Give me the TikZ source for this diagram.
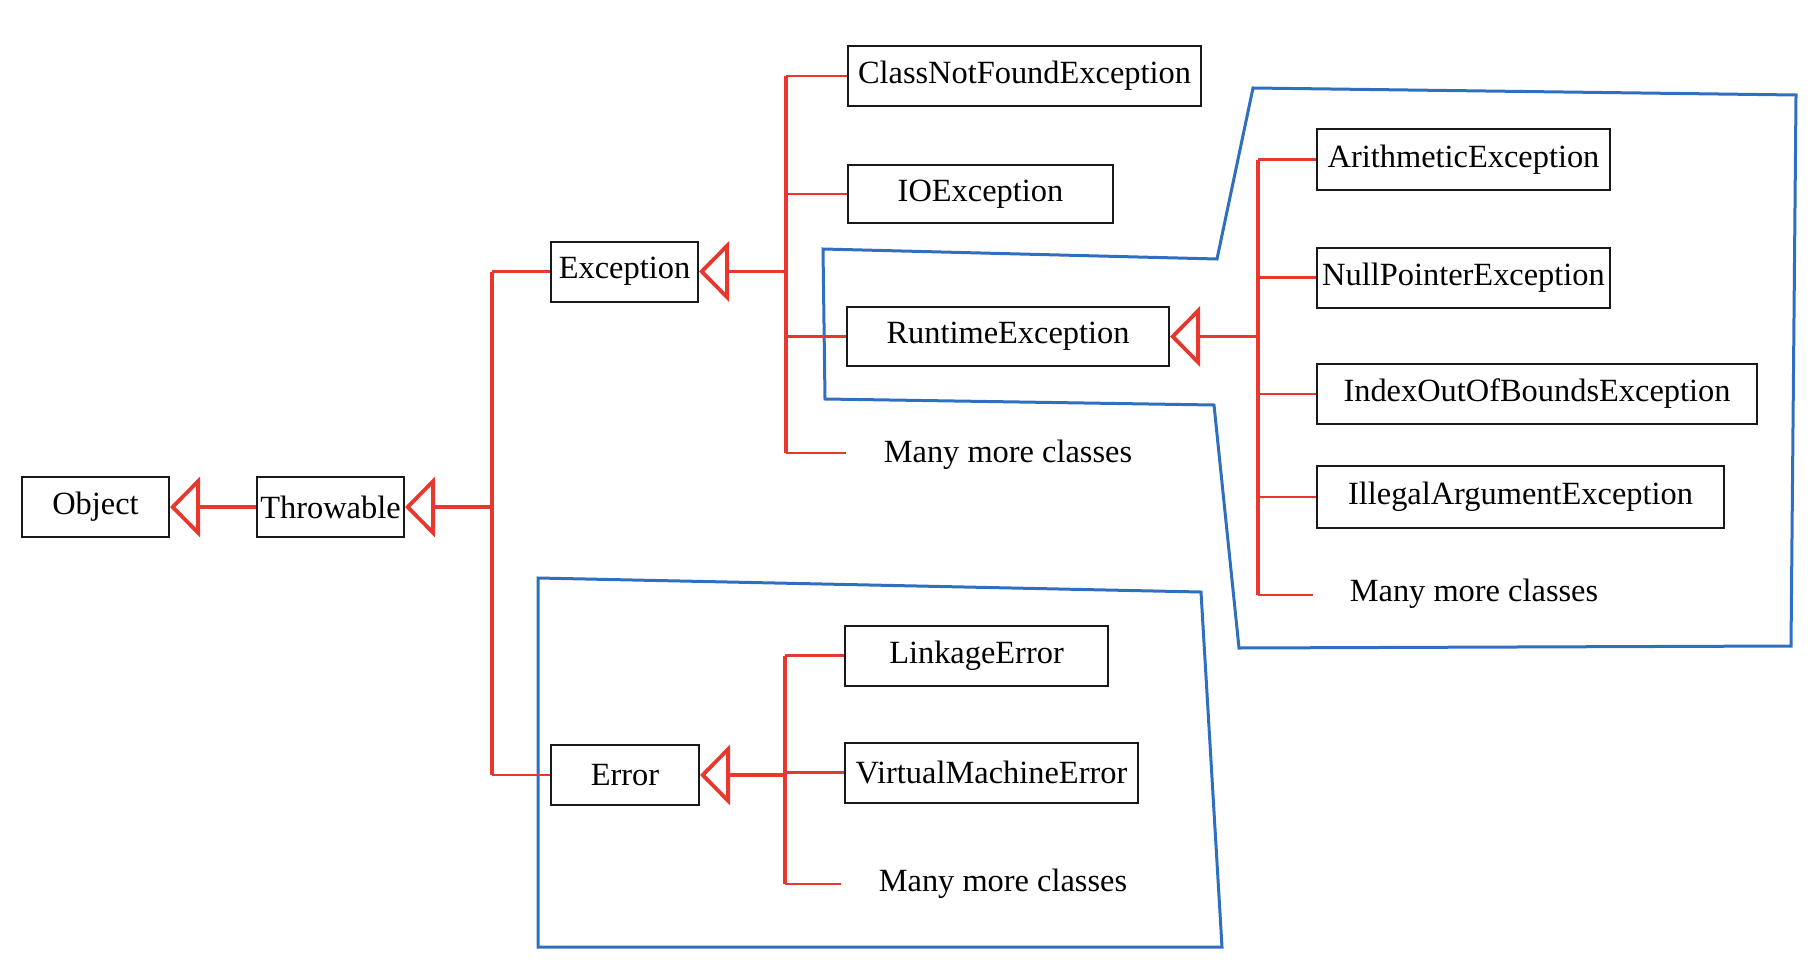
\documentclass[tikz,border=0pt]{standalone}
\usepackage{fontspec}
\setmainfont{Liberation Serif}
\usetikzlibrary{arrows.meta}
\definecolor{inhred}{RGB}{232,56,45}
\definecolor{grpblue}{RGB}{47,111,191}
\begin{document}
\begin{tikzpicture}[x=0.5pt,y=-0.5pt,
  every node/.style={font=\fontsize{16.2pt}{19pt}\selectfont},
  cls/.style={draw=black!90, line width=1pt, inner sep=0pt, minimum height=30pt, fill=white},
  note/.style={inner sep=0pt},
  branch/.style={draw=inhred, line width=1.1pt},
  bus/.style={draw=inhred, line width=1.6pt},
  inh/.style={draw=inhred, line width=1.9pt, line join=miter,
    -{Triangle[open, length=15pt, width=30pt]}},
  group/.style={draw=grpblue, line width=1.5pt, line join=miter}]

\useasboundingbox (0,0) rectangle (1814,974);

% package outlines
\draw[group] (823,249) -- (1217,259) -- (1253,88) -- (1796,95) -- (1791,646)
  -- (1239,648) -- (1214,405) -- (825,399) -- cycle;
\draw[group] (538,578) -- (1201,592) -- (1222,947) -- (538,947) -- cycle;

% classes
\node[cls, minimum width=73.5pt] (object) at (95.5,507) {Object};
\node[cls, minimum width=73.5pt] (throwable) at (330.5,507) {Throwable};
\node[cls, minimum width=73.5pt] (exception) at (624.5,271.5) {Exception};
\node[cls, minimum width=74pt] (error) at (625,775) {Error};
\node[cls, minimum width=176.5pt] (cnf) at (1024.5,76) {ClassNotFoundException};
\node[cls, minimum width=132.5pt, minimum height=29pt] (io) at (980.5,194) {IOException};
\node[cls, minimum width=161pt, minimum height=29.5pt] (runtime) at (1008,336.5) {RuntimeException};
\node[cls, minimum width=146.5pt] (arith) at (1463.5,159.5) {ArithmeticException};
\node[cls, minimum width=146.5pt] (nullp) at (1463.5,277.5) {NullPointerException};
\node[cls, minimum width=220pt] (index) at (1537,394) {IndexOutOfBoundsException};
\node[cls, minimum width=203.5pt, minimum height=31pt] (illegal) at (1520.5,497) {IllegalArgumentException};
\node[cls, minimum width=131.5pt] (linkage) at (976.5,655.5) {LinkageError};
\node[cls, minimum width=146.5pt] (vm) at (991.5,772.5) {VirtualMachineError};
\node[note] (moreA) at (1008,455) {Many more classes};
\node[note] (moreB) at (1474,594) {Many more classes};
\node[note] (moreC) at (1003,884) {Many more classes};

% Throwable hierarchy
\coordinate (lTop) at (492,271.5);
\coordinate (lMid) at (492,507);
\coordinate (lBot) at (492,775);
\draw[bus] (lTop) -- (lBot);
\draw[branch] (lTop) -- (exception.west);
\draw[branch] (lBot) -- (error.west);
\draw[inh] (lMid) -- (throwable.east);
\draw[inh] (throwable.west) -- (object.east);

% Exception subclasses
\coordinate (eTop) at (786,76);
\coordinate (eHub) at (786,271.5);
\coordinate (eBot) at (786,453);
\coordinate (eMore) at (846,453);
\draw[bus] (eTop) -- (eBot);
\draw[branch] (eTop) -- (cnf.west);
\draw[branch] (eTop |- io.west) -- (io.west);
\draw[branch] (eTop |- runtime.west) -- (runtime.west);
\draw[branch] (eBot) -- (eMore);
\draw[inh] (eHub) -- (exception.east);

% RuntimeException subclasses
\coordinate (rTop) at (1258,159.5);
\coordinate (rHub) at (1258,336.5);
\coordinate (rBot) at (1258,595);
\coordinate (rMore) at (1313,595);
\draw[bus] (rTop) -- (rBot);
\draw[branch] (rTop) -- (arith.west);
\draw[branch] (rTop |- nullp.west) -- (nullp.west);
\draw[branch] (rTop |- index.west) -- (index.west);
\draw[branch] (rTop |- illegal.west) -- (illegal.west);
\draw[branch] (rBot) -- (rMore);
\draw[inh] (rHub) -- (runtime.east);

% Error subclasses
\coordinate (xTop) at (785,655.5);
\coordinate (xHub) at (785,775);
\coordinate (xBot) at (785,884);
\coordinate (xMore) at (841,884);
\draw[bus] (xTop) -- (xBot);
\draw[branch] (xTop) -- (linkage.west);
\draw[branch] (xTop |- vm.west) -- (vm.west);
\draw[branch] (xBot) -- (xMore);
\draw[inh] (xHub) -- (error.east);
\end{tikzpicture}
\end{document}
